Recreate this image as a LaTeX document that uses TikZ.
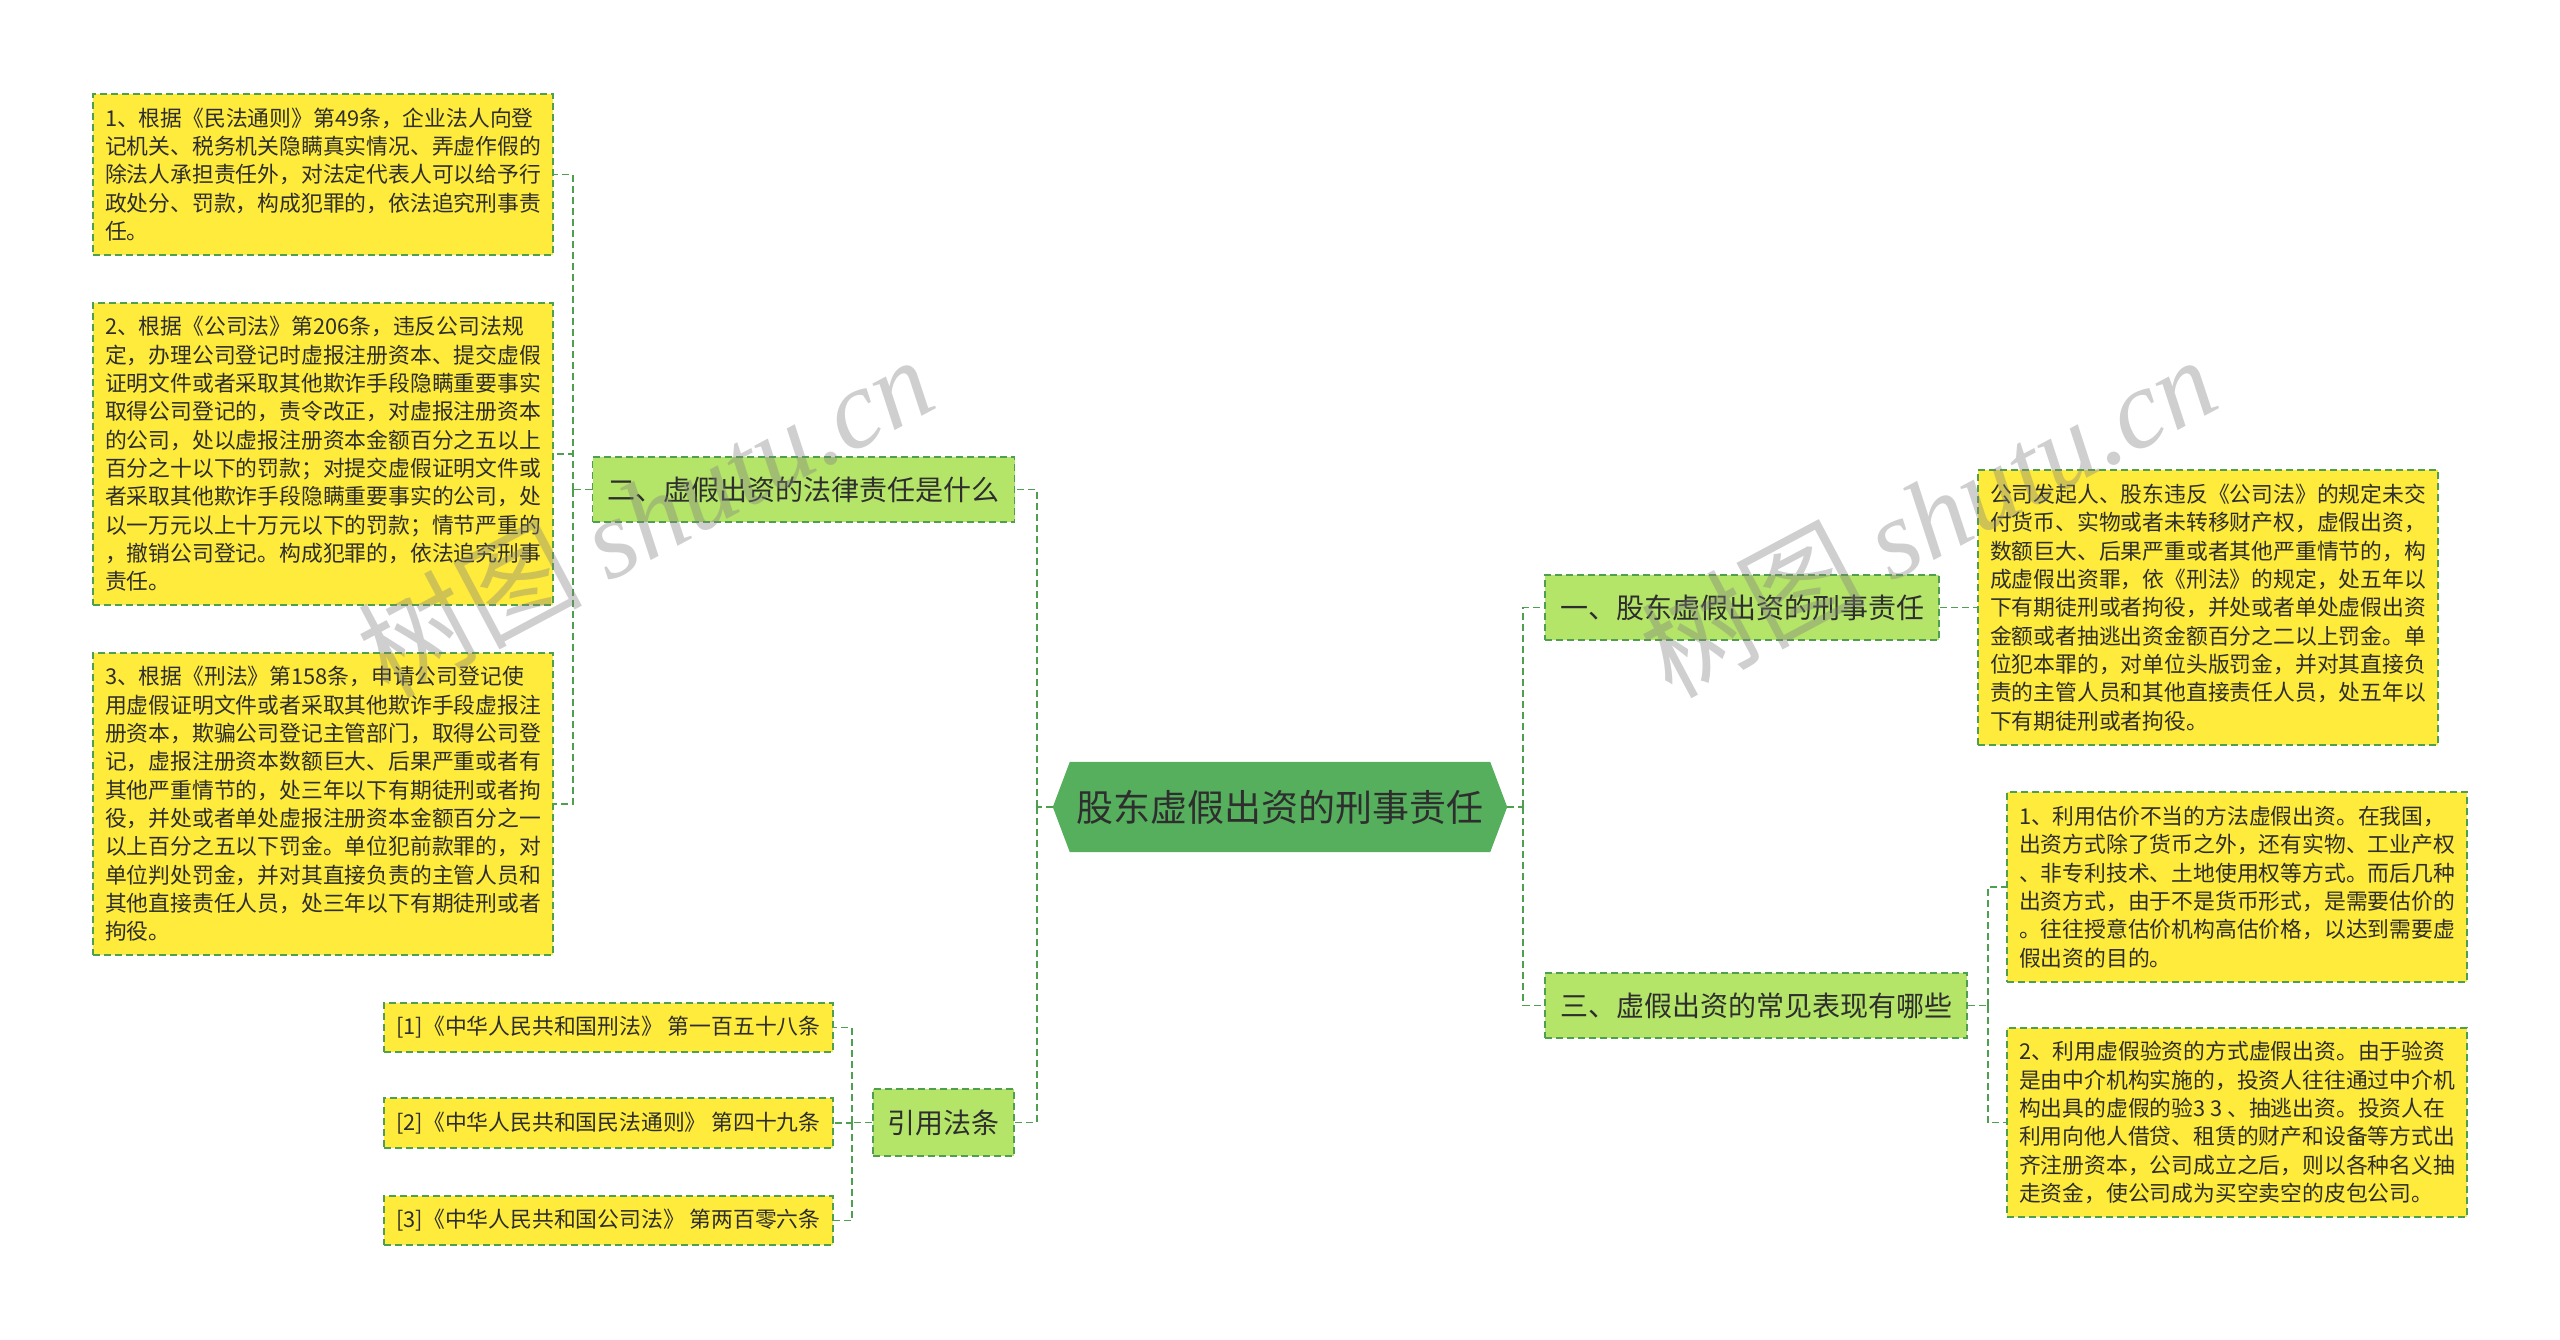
\documentclass[tikz,border=0pt]{standalone}
\usepackage{fontspec}
\setmainfont{Noto Sans CJK SC}
\newfontfamily\wmserif{Liberation Serif}
\usetikzlibrary{backgrounds}

\definecolor{rootgreen}{HTML}{55AF5C}
\definecolor{topicgreen}{HTML}{B4E468}
\definecolor{leafyellow}{HTML}{FFEB3B}
\definecolor{edgegreen}{HTML}{4E9F4E}
\definecolor{inkgray}{HTML}{2E2E2E}

\tikzset{
  box/.style={draw=edgegreen, line width=1.8pt, dash pattern=on 7pt off 4pt, text=inkgray, inner sep=0pt},
  topic/.style={box, fill=topicgreen, font=\fontsize{28}{34}\selectfont, minimum height=65pt},
  leaf/.style={box, fill=leafyellow, align=left, font=\fontsize{21.8}{28.3}\selectfont, minimum width=460pt},
  lawref/.style={box, fill=leafyellow, font=\fontsize{21.8}{28.3}\selectfont, minimum width=449pt, minimum height=49pt},
  link/.style={draw=edgegreen, line width=1.8pt, dash pattern=on 7pt off 4pt},
  rootbox/.style={font=\fontsize{37}{44}\selectfont, text=inkgray, minimum width=454pt, minimum height=90pt, inner sep=0pt},
  wmark/.style={text=gray, text opacity=0.38, rotate=28, font=\fontsize{112}{116}\selectfont}
}

\begin{document}
\begin{tikzpicture}[x=1pt,y=-1pt]
  \useasboundingbox (0,0) rectangle (2560,1339);

  % centre
  \node[rootbox] (root) at (1280,807) {股东虚假出资的刑事责任};
  \begin{scope}[on background layer]
    \fill[rootgreen] ([xshift=17pt]root.north west) -- ([xshift=-17pt]root.north east) -- (root.east)
      -- ([xshift=-17pt]root.south east) -- ([xshift=17pt]root.south west) -- (root.west) -- cycle;
  \end{scope}

  % first level
  \node[topic, minimum width=422pt] (t2) at (803.5,489.5) {二、虚假出资的法律责任是什么};
  \node[topic, minimum width=141pt, minimum height=67pt] (tref) at (943.5,1122.5) {引用法条};
  \node[topic, minimum width=394pt] (t1) at (1742,607.5) {一、股东虚假出资的刑事责任};
  \node[topic, minimum width=422pt] (t3) at (1756,1005.5) {三、虚假出资的常见表现有哪些};

  % left leaves
  \node[leaf, minimum height=161pt] (l1) at (323,174.5) {1、根据《民法通则》第49条，企业法人向登\\
    记机关、税务机关隐瞒真实情况、弄虚作假的\\
    除法人承担责任外，对法定代表人可以给予行\\
    政处分、罚款，构成犯罪的，依法追究刑事责\\
    任。};
  \node[leaf, minimum height=302pt] (l2) at (323,454) {2、根据《公司法》第206条，违反公司法规\\
    定，办理公司登记时虚报注册资本、提交虚假\\
    证明文件或者采取其他欺诈手段隐瞒重要事实\\
    取得公司登记的，责令改正，对虚报注册资本\\
    的公司，处以虚报注册资本金额百分之五以上\\
    百分之十以下的罚款；对提交虚假证明文件或\\
    者采取其他欺诈手段隐瞒重要事实的公司，处\\
    以一万元以上十万元以下的罚款；情节严重的\\
    ，撤销公司登记。构成犯罪的，依法追究刑事\\
    责任。};
  \node[leaf, minimum height=302pt] (l3) at (323,804) {3、根据《刑法》第158条，申请公司登记使\\
    用虚假证明文件或者采取其他欺诈手段虚报注\\
    册资本，欺骗公司登记主管部门，取得公司登\\
    记，虚报注册资本数额巨大、后果严重或者有\\
    其他严重情节的，处三年以下有期徒刑或者拘\\
    役，并处或者单处虚报注册资本金额百分之一\\
    以上百分之五以下罚金。单位犯前款罪的，对\\
    单位判处罚金，并对其直接负责的主管人员和\\
    其他直接责任人员，处三年以下有期徒刑或者\\
    拘役。};

  \node[lawref] (ref1) at (608.5,1027.5) {[1]《中华人民共和国刑法》 第一百五十八条};
  \node[lawref, minimum height=50pt] (ref2) at (608.5,1123) {[2]《中华人民共和国民法通则》 第四十九条};
  \node[lawref] (ref3) at (608.5,1220.5) {[3]《中华人民共和国公司法》 第两百零六条};

  % right leaves
  \node[leaf, minimum height=275pt] (r0) at (2208,607.5) {公司发起人、股东违反《公司法》的规定未交\\
    付货币、实物或者未转移财产权，虚假出资，\\
    数额巨大、后果严重或者其他严重情节的，构\\
    成虚假出资罪，依《刑法》的规定，处五年以\\
    下有期徒刑或者拘役，并处或者单处虚假出资\\
    金额或者抽逃出资金额百分之二以上罚金。单\\
    位犯本罪的，对单位头版罚金，并对其直接负\\
    责的主管人员和其他直接责任人员，处五年以\\
    下有期徒刑或者拘役。};
  \node[leaf, minimum height=190pt] (r1) at (2237,887) {1、利用估价不当的方法虚假出资。在我国，\\
    出资方式除了货币之外，还有实物、工业产权\\
    、非专利技术、土地使用权等方式。而后几种\\
    出资方式，由于不是货币形式，是需要估价的\\
    。往往授意估价机构高估价格，以达到需要虚\\
    假出资的目的。};
  \node[leaf, minimum height=189pt] (r2) at (2237,1122.5) {2、利用虚假验资的方式虚假出资。由于验资\\
    是由中介机构实施的，投资人往往通过中介机\\
    构出具的虚假的验3 3 、抽逃出资。投资人在\\
    利用向他人借贷、租赁的财产和设备等方式出\\
    齐注册资本，公司成立之后，则以各种名义抽\\
    走资金，使公司成为买空卖空的皮包公司。};

  % connectors
  \draw[link] (root.west) -- ++(-16,0) coordinate (lt);
  \foreach \n in {t2,tref} \draw[link] (lt) |- (\n.east);
  \draw[link] (root.east) -- ++(16,0) coordinate (rt);
  \foreach \n in {t1,t3} \draw[link] (rt) |- (\n.west);
  \draw[link] (t2.west) -- ++(-19,0) coordinate (t2s);
  \foreach \n in {l1,l2,l3} \draw[link] (t2s) |- (\n.east);
  \draw[link] (tref.west) -- ++(-20,0) coordinate (refs);
  \foreach \n in {ref1,ref2,ref3} \draw[link] (refs) |- (\n.east);
  \draw[link] (t1.east) -- (r0.west);
  \draw[link] (t3.east) -- ++(20,0) coordinate (t3s);
  \foreach \n in {r1,r2} \draw[link] (t3s) |- (\n.west);

  % watermark
  \node[wmark] (wm1) at (645,515) {树图 {\wmserif\itshape shutu.cn}};
  \node[wmark] (wm2) at (1928,515) {树图 {\wmserif\itshape shutu.cn}};
\end{tikzpicture}
\end{document}
